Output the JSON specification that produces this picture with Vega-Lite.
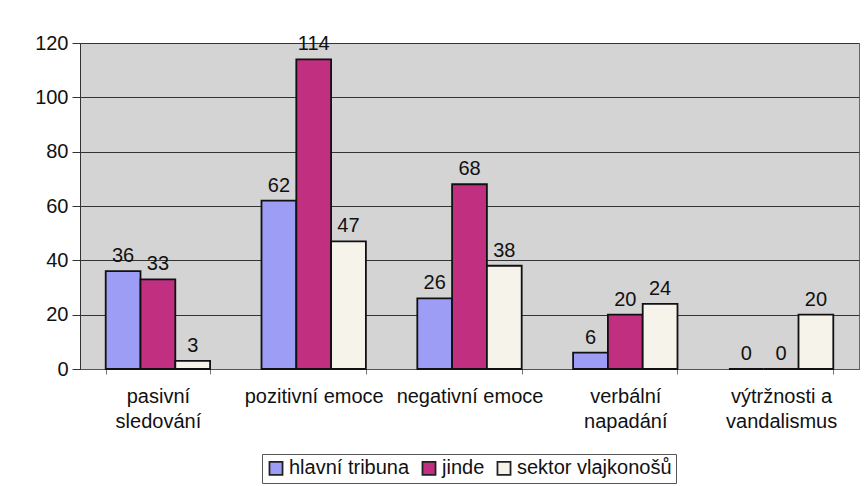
{
  "$schema": "https://vega.github.io/schema/vega-lite/v6.json",
  "width": 779,
  "height": 326,
  "autosize": {"type": "none"},
  "padding": {"left": 80, "top": 43, "right": 6, "bottom": 117},
  "background": "white",
  "config": {
    "font": "Liberation Sans",
    "view": {"fill": "#d4d4d4", "stroke": "#666666", "strokeWidth": 1}
  },
  "data": {
    "values": [
      {"kategorie": "pasivní|sledování", "skupina": "hlavní tribuna", "pocet": 36},
      {"kategorie": "pasivní|sledování", "skupina": "jinde", "pocet": 33},
      {"kategorie": "pasivní|sledování", "skupina": "sektor vlajkonošů", "pocet": 3},
      {"kategorie": "pozitivní emoce", "skupina": "hlavní tribuna", "pocet": 62},
      {"kategorie": "pozitivní emoce", "skupina": "jinde", "pocet": 114},
      {"kategorie": "pozitivní emoce", "skupina": "sektor vlajkonošů", "pocet": 47},
      {"kategorie": "negativní emoce", "skupina": "hlavní tribuna", "pocet": 26},
      {"kategorie": "negativní emoce", "skupina": "jinde", "pocet": 68},
      {"kategorie": "negativní emoce", "skupina": "sektor vlajkonošů", "pocet": 38},
      {"kategorie": "verbální|napadání", "skupina": "hlavní tribuna", "pocet": 6},
      {"kategorie": "verbální|napadání", "skupina": "jinde", "pocet": 20},
      {"kategorie": "verbální|napadání", "skupina": "sektor vlajkonošů", "pocet": 24},
      {"kategorie": "výtržnosti a|vandalismus", "skupina": "hlavní tribuna", "pocet": 0},
      {"kategorie": "výtržnosti a|vandalismus", "skupina": "jinde", "pocet": 0},
      {"kategorie": "výtržnosti a|vandalismus", "skupina": "sektor vlajkonošů", "pocet": 20}
    ]
  },
  "encoding": {
    "x": {
      "field": "kategorie",
      "type": "nominal",
      "sort": null,
      "scale": {"paddingInner": 0.33, "paddingOuter": 0.165},
      "axis": {
        "title": null,
        "labelAngle": 0,
        "labelExpr": "split(datum.label, '|')",
        "labelFontSize": 20,
        "labelColor": "#111111",
        "labelPadding": 12,
        "labelLineHeight": 25,
        "labelBaseline": "top",
        "tickBand": "extent",
        "tickSize": 5,
        "tickColor": "#777777",
        "domainColor": "#555555",
        "grid": false
      }
    },
    "xOffset": {
      "field": "skupina",
      "type": "nominal",
      "sort": ["hlavní tribuna", "jinde", "sektor vlajkonošů"],
      "scale": {"paddingInner": 0, "paddingOuter": 0}
    },
    "y": {
      "field": "pocet",
      "type": "quantitative",
      "scale": {"domain": [0, 120]},
      "axis": {
        "title": null,
        "values": [0, 20, 40, 60, 80, 100, 120],
        "labelFontSize": 20,
        "labelColor": "#111111",
        "labelPadding": 4,
        "tickSize": 8,
        "tickColor": "#333333",
        "domainColor": "#333333",
        "gridColor": "#333333",
        "gridWidth": 1.2,
        "gridOpacity": 1
      }
    }
  },
  "layer": [
    {
      "mark": {"type": "bar", "stroke": "#111111", "strokeWidth": 1.8},
      "encoding": {
        "color": {
          "field": "skupina",
          "type": "nominal",
          "sort": ["hlavní tribuna", "jinde", "sektor vlajkonošů"],
          "scale": {
            "domain": ["hlavní tribuna", "jinde", "sektor vlajkonošů"],
            "range": ["#9d9df5", "#c02f80", "#f5f3ea"]
          },
          "legend": {
            "title": null,
            "orient": "none",
            "direction": "horizontal",
            "legendX": 182,
            "legendY": 411,
            "fillColor": "white",
            "strokeColor": "#555555",
            "padding": 4,
            "labelFontSize": 20,
            "labelColor": "#111111",
            "labelOffset": 3,
            "symbolType": "square",
            "symbolSize": 170,
            "symbolStrokeColor": "#222222",
            "symbolStrokeWidth": 1.8,
            "columnPadding": 8
          }
        }
      }
    },
    {
      "mark": {"type": "text", "baseline": "bottom", "dy": -5, "fontSize": 20, "color": "#111111"},
      "encoding": {
        "text": {"field": "pocet", "type": "quantitative"}
      }
    }
  ]
}
